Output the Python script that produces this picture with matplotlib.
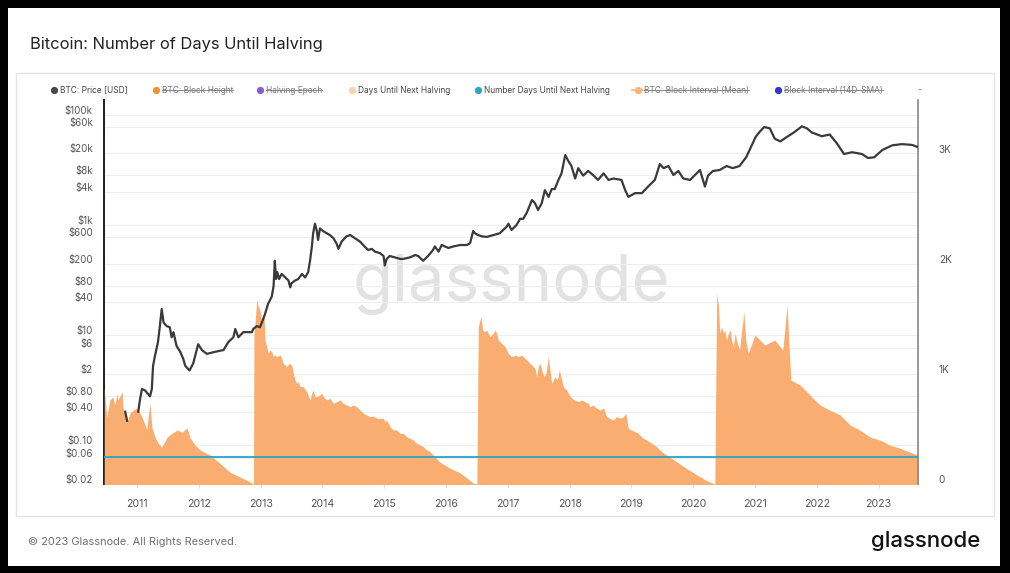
import numpy as np
import matplotlib.pyplot as plt
import matplotlib.transforms as mtransforms
from matplotlib.lines import Line2D
from matplotlib.patches import Rectangle

W, H = 1010, 573

# BTC price [USD], decimal year vs price (nan = gap in the series)
price_year = [2010.81, 2010.84, 2010.90, 2011.02, 2011.05, 2011.08, 2011.13, 2011.21, 2011.24,
              2011.26, 2011.29, 2011.34, 2011.37, 2011.40, 2011.43, 2011.48, 2011.53, 2011.56,
              2011.59, 2011.64, 2011.70, 2011.75, 2011.78, 2011.85, 2011.91, 2011.99, 2012.05,
              2012.13, 2012.26, 2012.40, 2012.48, 2012.56, 2012.59, 2012.64, 2012.72, 2012.86,
              2012.88, 2012.94, 2012.99, 2013.02, 2013.07, 2013.12, 2013.18, 2013.21, 2013.23,
              2013.25, 2013.27, 2013.30, 2013.34, 2013.40, 2013.45, 2013.48, 2013.50, 2013.56,
              2013.61, 2013.67, 2013.72, 2013.77, 2013.80, 2013.83, 2013.85, 2013.88, 2013.91,
              2013.93, 2013.96, 2014.01, 2014.07, 2014.12, 2014.18, 2014.23, 2014.26, 2014.31,
              2014.39, 2014.45, 2014.53, 2014.61, 2014.69, 2014.74, 2014.80, 2014.85, 2014.93,
              2014.99, 2015.01, 2015.04, 2015.09, 2015.17, 2015.26, 2015.31, 2015.42, 2015.50,
              2015.55, 2015.63, 2015.71, 2015.79, 2015.82, 2015.88, 2015.93, 2015.98, 2016.04,
              2016.12, 2016.23, 2016.34, 2016.39, 2016.44, 2016.47, 2016.52, 2016.58, 2016.66,
              2016.77, 2016.87, 2016.98, 2017.01, 2017.06, 2017.14, 2017.20, 2017.25, 2017.31,
              2017.39, 2017.44, 2017.49, 2017.55, 2017.60, 2017.66, 2017.71, 2017.76, 2017.82,
              2017.87, 2017.93, 2017.98, 2018.03, 2018.09, 2018.14, 2018.22, 2018.30, 2018.38,
              2018.46, 2018.55, 2018.63, 2018.71, 2018.84, 2018.90, 2018.95, 2019.06, 2019.17,
              2019.27, 2019.38, 2019.46, 2019.52, 2019.60, 2019.68, 2019.76, 2019.84, 2019.95,
              2020.03, 2020.11, 2020.19, 2020.24, 2020.32, 2020.43, 2020.54, 2020.64, 2020.75,
              2020.86, 2020.95, 2021.01, 2021.08, 2021.15, 2021.24, 2021.32, 2021.41, 2021.52,
              2021.63, 2021.76, 2021.84, 2021.92, 2022.08, 2022.21, 2022.33, 2022.44, 2022.57,
              2022.73, 2022.83, 2022.93, 2023.06, 2023.22, 2023.38, 2023.54, 2023.64]
price_usd = [0.41, 0.28, np.nan, 0.41, 0.70, 1.06, 1.0, 0.78, 1.06,
             2.8, 4.2, 7.6, 14.7, 30, 17, 14.7, 14, 9.2,
             11.4, 6.4, 5.0, 3.7, 2.8, 2.3, 3.1, 6.9, 5.4,
             4.6, 5.0, 5.4, 7.6, 9.2, 13, 9.2, 11.4, 11.4,
             13, 14.7, 14, 17, 24, 37, 50, 78, 225,
             105, 140, 105, 130, 112, 99, 74, 88, 99,
             105, 130, 112, 140, 225, 410, 710, 1060, 780,
             537, 870, 780, 710, 660, 575, 460, 370, 500,
             625, 660, 575, 500, 400, 353, 370, 330, 310,
             275, 185, 243, 275, 260, 243, 243, 260, 286,
             275, 225, 275, 353, 410, 330, 435, 410, 384,
             410, 435, 435, 470, 780, 710, 660, 625, 610,
             660, 710, 930, 1060, 815, 1000, 1300, 1300, 1700,
             2850, 2500, 1880, 2500, 4300, 3250, 4500, 4500, 6600,
             8700, 18700, 14500, 11800, 7000, 10800, 7900, 9600, 8100,
             6600, 8700, 6600, 7000, 6600, 4300, 3250, 3800, 3800,
             5000, 6600, 12800, 10800, 11800, 8100, 9600, 7000, 6600,
             8100, 10000, 5000, 7900, 9600, 10000, 11800, 10800, 11800,
             17200, 28400, 39700, 50000, 60200, 57000, 37000, 33000, 40000,
             48000, 62000, 57000, 48000, 41000, 44000, 30000, 19500, 21000,
             19500, 16500, 17000, 23000, 28000, 29500, 28500, 26000]

# Days until next halving (area)
halving_year = [2010.47, 2010.51, 2010.56, 2010.61, 2010.64, 2010.68, 2010.69, 2010.76, 2010.77,
                2010.84, 2010.89, 2010.94, 2011.00, 2011.05, 2011.10, 2011.16, 2011.18, 2011.21,
                2011.24, 2011.29, 2011.34, 2011.40, 2011.49, 2011.57, 2011.65, 2011.73, 2011.81,
                2011.86, 2011.94, 2012.02, 2012.18, 2012.34, 2012.50, 2012.67, 2012.86,
                # epoch 2
                2012.885, 2012.893, 2012.909, 2012.937, 2012.963, 2012.990, 2013.018, 2013.034,
                2013.055, 2013.071, 2013.099, 2013.125, 2013.152, 2013.180, 2013.206, 2013.233,
                2013.261, 2013.314, 2013.341, 2013.367, 2013.422, 2013.464, 2013.503, 2013.529,
                2013.557, 2013.584, 2013.610, 2013.638, 2013.691, 2013.746, 2013.799, 2013.827,
                2013.853, 2013.880, 2013.908, 2013.961, 2013.989, 2014.015, 2014.070, 2014.123,
                2014.176, 2014.231, 2014.285, 2014.338, 2014.393, 2014.447, 2014.500, 2014.555,
                2014.608, 2014.662, 2014.717, 2014.770, 2014.824, 2014.879, 2014.932, 2014.985,
                2015.013, 2015.040, 2015.094, 2015.147, 2015.202, 2015.256, 2015.309, 2015.364,
                2015.417, 2015.471, 2015.526, 2015.579, 2015.633, 2015.688, 2015.741, 2015.90,
                2016.06, 2016.23, 2016.44,
                # epoch 3
                2016.50, 2016.523, 2016.550, 2016.566, 2016.594, 2016.631, 2016.659, 2016.684,
                2016.712, 2016.765, 2016.793, 2016.820, 2016.846, 2016.901, 2016.955, 2017.008,
                2017.063, 2017.117, 2017.170, 2017.225, 2017.278, 2017.332, 2017.387, 2017.440,
                2017.468, 2017.493, 2017.521, 2017.549, 2017.586, 2017.618, 2017.656, 2017.683,
                2017.710, 2017.736, 2017.764, 2017.801, 2017.834, 2017.872, 2017.898, 2017.953,
                2017.979, 2018.034, 2018.087, 2018.141, 2018.196, 2018.249, 2018.303, 2018.33,
                2018.38, 2018.44, 2018.49, 2018.55, 2018.60, 2018.65, 2018.71, 2018.76, 2018.82,
                2018.87, 2018.91, 2018.95, 2019.00, 2019.06, 2019.11, 2019.19, 2019.25, 2019.33,
                2019.41, 2019.49, 2019.57, 2019.65, 2019.73, 2019.81, 2019.89, 2019.98, 2020.06,
                2020.14, 2020.22, 2020.30,
                # epoch 4
                2020.35, 2020.38, 2020.41, 2020.43, 2020.46, 2020.49, 2020.51, 2020.54, 2020.57,
                2020.60, 2020.62, 2020.65, 2020.68, 2020.70, 2020.75, 2020.78, 2020.82, 2020.85,
                2020.89, 2021.00, 2021.16, 2021.32, 2021.45, 2021.52, 2021.55,
                2021.58, 2021.73, 2021.89, 2022.05, 2022.21, 2022.38, 2022.54, 2022.70, 2022.86,
                2023.02, 2023.18, 2023.34, 2023.50, 2023.64]
halving_days = [872, 609, 763, 790, 718, 827, 763, 836, 700,
                563, 645, 672, 690, 645, 581, 490, 609, 735,
                518, 427, 372, 336, 427, 463, 490, 472, 509,
                418, 354, 309, 263, 190, 109, 63, 10,
                # epoch 2
                0, 1370, 1461, 1673, 1612, 1582, 1461, 1536,
                1552, 1309, 1248, 1188, 1218, 1203, 1157, 1173,
                1157, 1173, 1142, 1097, 1066, 1097, 1082, 1006,
                945, 915, 930, 885, 885, 839, 764, 824,
                854, 794, 794, 809, 824, 794, 764, 779,
                733, 748, 764, 733, 718, 703, 718, 703,
                673, 643, 627, 612, 618, 597, 597, 597,
                566, 582, 521, 491, 491, 461, 461, 430,
                415, 400, 370, 355, 339, 309, 294, 200,
                145, 100, 10,
                # epoch 3
                0, 1430, 1491, 1521, 1400, 1384, 1400, 1370,
                1339, 1370, 1400, 1370, 1309, 1279, 1248, 1188,
                1157, 1173, 1157, 1173, 1142, 1112, 1082, 1052,
                975, 1066, 1097, 1036, 975, 1006, 1157, 1036,
                915, 945, 975, 945, 1036, 945, 885, 854,
                824, 779, 764, 748, 764, 748, 733, 703,
                718, 688, 673, 688, 612, 597, 582, 612, 597,
                612, 643, 506, 491, 476, 461, 415, 400, 370,
                339, 294, 264, 234, 203, 173, 142, 112, 82,
                58, 30, 12,
                # epoch 4
                0, 1733, 1612, 1370, 1430, 1370, 1400, 1309, 1370,
                1400, 1309, 1248, 1370, 1309, 1218, 1370, 1566, 1309,
                1188, 1354, 1263, 1309, 1218, 1627, 1263,
                945, 900, 809, 718, 672, 627, 536, 490, 427,
                400, 354, 327, 290, 263]

days_now = 245  # Number Days Until Next Halving

left_ticks = [0.02, 0.06, 0.10, 0.40, 0.80, 2, 6, 10, 40, 80, 200, 600, 1000,
              4000, 8000, 20000, 60000, 100000]
left_labels = ["$0.02", "$0.06", "$0.10", "$0.40", "$0.80", "$2", "$6", "$10", "$40", "$80",
               "$200", "$600", "$1k", "$4k", "$8k", "$20k", "$60k", "$100k"]
right_ticks = [0, 1000, 2000, 3000]
right_labels = ["0", "1K", "2K", "3K"]
years = list(range(2011, 2024))

legend_items = [
    ("BTC: Price [USD]", "#4a4a4a", False),
    ("BTC: Block Height", "#f0922e", True),
    ("Halving Epoch", "#8b5bd6", True),
    ("Days Until Next Halving", "#fbd2ae", False),
    ("Number Days Until Next Halving", "#2aa6c6", False),
    ("BTC: Block Interval (Mean)", "#f7b478", True),
    ("Block Interval (14D-SMA)", "#3434d0", True),
]
legend_x = [54, 156, 260, 352, 478, 638, 778]

plt.rcParams['font.family'] = ['Inter', 'DejaVu Sans']

fig = plt.figure(figsize=(W / 100, H / 100), dpi=100)
fig.patch.set_facecolor('black')


def fx(x):
    return x / W


def fy(y):
    return 1 - y / H


fig.patches.append(Rectangle((fx(8), fy(566)), (1000 - 8) / W, (566 - 8) / H,
                             transform=fig.transFigure, facecolor='white',
                             edgecolor='none', zorder=-3))
fig.patches.append(Rectangle((fx(16), fy(516)), (994 - 16) / W, (516 - 73) / H,
                             transform=fig.transFigure, facecolor='white',
                             edgecolor='#e4e4e4', lw=1, zorder=-2))

fig.text(fx(30), fy(44), "Bitcoin: Number of Days Until Halving", fontsize=11.9,
         color='#222222', va='center', ha='left')
fig.text(fx(28), fy(542), "\u00a9 2023 Glassnode. All Rights Reserved.", fontsize=7.95,
         color='#6f6f6f', va='center', ha='left')
fig.text(fx(980), fy(541), "glassnode", fontsize=16, color='#111111', va='center',
         ha='right', fontweight='medium')

# axes: ax = log grid, ax2 = days area, ax3 = price line on top
rect = [fx(104), fy(484), (918 - 104) / W, (484 - 100) / H]
ax = fig.add_axes(rect)
ax2 = ax.twinx()
ax3 = ax.twinx()

xlim = (2010.466, 2023.638)
log_lo = np.log10(0.02)
log_hi = log_lo + 384 / 55.1

ax.set_yscale('log')
ax.set_ylim(10 ** log_lo, 10 ** log_hi)
ax.set_xlim(*xlim)
ax.set_yticks(left_ticks)
ax.set_yticklabels(left_labels)
ax.yaxis.set_minor_locator(plt.NullLocator())
ax.tick_params(axis='y', length=0, pad=8, labelsize=7.0, labelcolor='#555555')
ax.set_xticks(years)
ax.set_xticklabels([str(y) for y in years])
ax.tick_params(axis='x', length=3, color='#dddddd', pad=8, labelsize=7.6,
               labelcolor='#555555')
ax.grid(axis='y', color='#eeeeee', lw=0.8)
for s in ['top', 'bottom', 'right']:
    ax.spines[s].set_visible(False)
ax.spines['left'].set_color('#1a1a1a')
ax.spines['left'].set_linewidth(1.4)
ax.text(0.5, 0.52, "glassnode", transform=ax.transAxes, fontsize=47, color='#e2e2e2',
        ha='center', va='center', zorder=0)

ax2.fill_between(halving_year, halving_days, -10, color='#f9ad70', lw=0, zorder=2)
ax2.axhline(days_now, color='#28a5c4', lw=1.3, zorder=3)
ax2.set_ylim(0, 384 / 110 * 1000)
ax2.set_xlim(*xlim)
ax2.set_yticks(right_ticks)
ax2.set_yticklabels(right_labels)
ax2.tick_params(axis='y', length=0, pad=15, labelsize=7.2, labelcolor='#555555')
for s in ['top', 'bottom', 'left']:
    ax2.spines[s].set_visible(False)
ax2.spines['right'].set_color('#888888')
ax2.spines['right'].set_linewidth(1.2)

ax3.plot(price_year, price_usd, color='#3a3a3a', lw=1.6, zorder=4)
ax3.set_yscale('log')
ax3.set_ylim(10 ** log_lo, 10 ** log_hi)
ax3.set_xlim(*xlim)
ax3.axis('off')

# glassnode puts the y labels a few pixels above their gridline
lift = mtransforms.ScaledTranslation(0, 5 / 100, fig.dpi_scale_trans)
for lab in ax.get_yticklabels() + ax2.get_yticklabels():
    lab.set_transform(lab.get_transform() + lift)

# legend row
renderer = fig.canvas.get_renderer()
for (name, col, hidden), x in zip(legend_items, legend_x):
    if name == "BTC: Block Interval (Mean)":
        fig.add_artist(Line2D([fx(x - 6), fx(x + 5)], [fy(90), fy(90)], color=col, lw=1.2))
    fig.add_artist(Line2D([fx(x)], [fy(90)], marker='o', ms=4.2, color=col, lw=0))
    t = fig.text(fx(x + 6), fy(90), name, fontsize=6.0, va='center', ha='left',
                 color='#777777' if hidden else '#444444')
    if hidden:
        bb = t.get_window_extent(renderer).transformed(fig.transFigure.inverted())
        fig.add_artist(Line2D([bb.x0, bb.x1], [fy(90.5), fy(90.5)], color='#888888', lw=0.7))
fig.text(fx(919), fy(90), "-", fontsize=6.5, va='center', ha='center', color='#777777')

fig.savefig("out.png", dpi=100, facecolor=fig.get_facecolor())
